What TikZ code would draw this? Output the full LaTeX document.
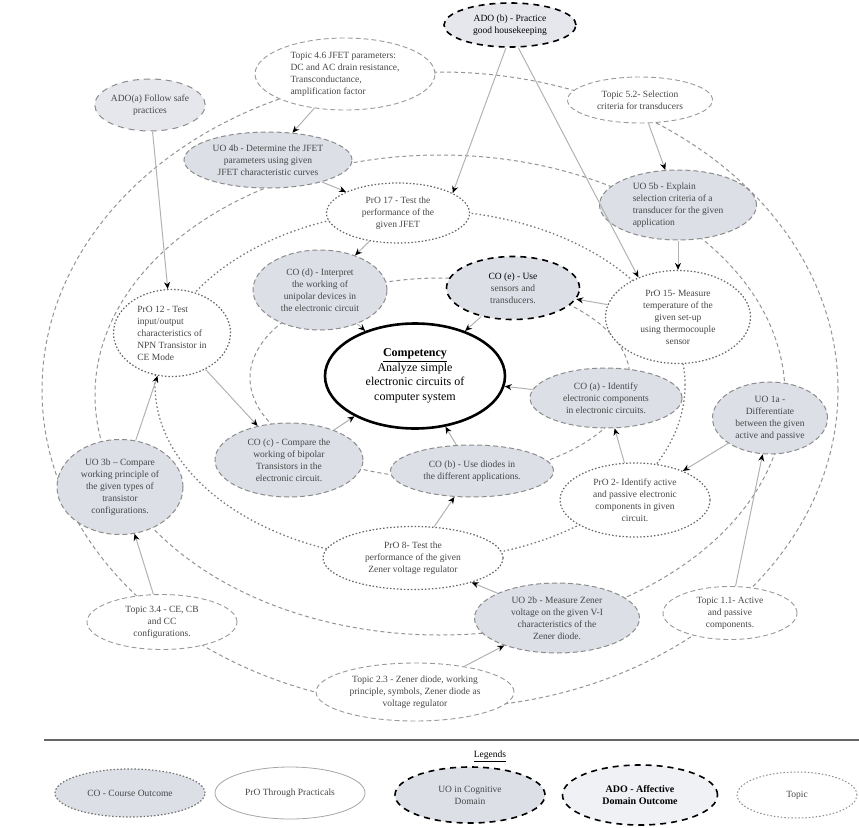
\documentclass[tikz,border=0pt]{standalone}
\usepackage{fontspec}
\setmainfont{Liberation Serif}
\usetikzlibrary{shapes, arrows.meta, positioning}
\definecolor{uogrey}{RGB}{221,223,231}
\definecolor{adogrey}{RGB}{229,231,237}

\begin{document}
\begin{tikzpicture}[
    x=1pt, y=-1pt,
    font=\fontsize{9.5}{12}\selectfont,
    sz/.style 2 args={minimum width=#1pt, minimum height=#2pt},
    oval/.style={ellipse, inner sep=0pt, align=center, text=black!72},
    uo/.style={oval, draw=black!45, dash pattern=on 5pt off 3pt, line width=1pt, fill=uogrey},
    co/.style={uo},
    ado/.style={oval, draw=black, dash pattern=on 6pt off 5pt, line width=1.6pt, fill=adogrey, text=black},
    pro/.style={oval, draw=black!60, dash pattern=on 1.5pt off 2pt, line width=1.2pt, fill=white},
    topic/.style={oval, draw=black!40, dash pattern=on 5pt off 3pt, line width=0.9pt, fill=white},
    comp/.style={oval, draw=black, line width=2.6pt, fill=white, text=black, font=\fontsize{12}{14.5}\selectfont},
    ring/.style={draw=black!42, dash pattern=on 4pt off 3pt, line width=1pt},
    proring/.style={draw=black!52, dash pattern=on 1.5pt off 2.5pt, line width=1.3pt},
    arrow/.style={draw=black!30, line width=1pt, -{Stealth[black, length=7pt, width=6pt]}}
  ]
  \useasboundingbox (0,0) rectangle (859,827);

  % rings
  \draw [ring] (440,390) ellipse [x radius=398pt, y radius=318pt];
  \draw [ring] (440,395) ellipse [x radius=345pt, y radius=240pt];
  \draw [proring] (420,385) ellipse [x radius=265pt, y radius=175pt];
  \draw [ring] (440,378) ellipse [x radius=190pt, y radius=100pt];

  % outer ring: topics and ADOs
  \node (adob) [ado, sz={132}{44}] at (510,25) {ADO (b) - Practice\\good housekeeping};
  \node (adoa) [ado, draw=black!45, line width=1pt, text=black!72, sz={105}{52}] at (150,105) {ADO(a) Follow safe\\practices};
  \node (t46) [topic, align=left, sz={180}{72}] at (345,74) {Topic 4.6 JFET parameters:\\DC and AC drain resistance,\\Transconductance,\\amplification factor};
  \node (t52) [topic, sz={145}{46}] at (640,100) {Topic 5.2- Selection\\criteria for transducers};
  \node (t11) [topic, sz={134}{53}] at (730,613) {Topic 1.1- Active\\and passive\\components.};
  \node (t34) [topic, sz={150}{55}] at (162,622) {Topic 3.4 - CE, CB\\and CC\\configurations.};
  \node (t23) [topic, sz={198}{58}] at (415,692) {Topic 2.3 - Zener diode, working\\principle, symbols, Zener diode as\\voltage regulator};

  % UO ring
  \node (uo4b) [uo, sz={168}{56}] at (268,160) {UO 4b - Determine the JFET\\parameters using given\\JFET characteristic curves};
  \node (uo5b) [uo, align=left, sz={157}{70}] at (678,205) {UO 5b - Explain\\selection criteria of a\\transducer for the given\\application};
  \node (uo1a) [uo, sz={115}{72}] at (770,418) {UO 1a -\\Differentiate\\between the given\\active and passive};
  \node (uo2b) [uo, sz={165}{70}] at (557,618) {UO 2b - Measure Zener\\voltage on the given V-I\\characteristics of the\\Zener diode.};
  \node (uo3b) [uo, sz={126}{95}] at (120,487) {UO 3b -- Compare\\working principle of\\the given types of\\transistor\\configurations.};

  % PrO ring
  \node (pro17) [pro, sz={143}{60}] at (398,213) {PrO 17 - Test the\\performance of the\\given JFET};
  \node (pro15) [pro, sz={145}{93}] at (678,317) {PrO 15- Measure\\temperature of the\\given set-up\\using thermocouple\\sensor};
  \node (pro2) [pro, sz={150}{74}] at (635,500) {PrO 2- Identify active\\and passive electronic\\components in given\\circuit.};
  \node (pro8) [pro, sz={180}{63}] at (413,558) {PrO 8- Test the\\performance of the given\\Zener voltage regulator};
  \node (pro12) [pro, align=left, sz={117}{87}] at (172,333) {PrO 12 - Test\\input/output\\characteristics of\\NPN Transistor in\\CE Mode};

  % CO ring
  \node (cod) [co, sz={134}{80}] at (320,290) {CO (d) - Interpret\\the working of\\unipolar devices in\\the electronic circuit};
  \node (coe) [co, draw=black, dash pattern=on 6pt off 5pt, line width=1.6pt, sz={133}{63}] at (513,288) {\textcolor{black}{CO (e) - Use}\\sensors and\\transducers.};
  \node (coa) [co, sz={152}{60}] at (606,398) {CO (a) - Identify\\electronic components\\in electronic circuits.};
  \node (cob) [co, sz={163}{52}] at (472,471) {CO (b) - Use diodes in\\the different applications.};
  \node (coc) [co, sz={148}{74}] at (289,460) {CO (c) - Compare the\\working of bipolar\\Transistors in the\\electronic circuit.};

  \node (comp) [comp, sz={180}{105}] at (415,376) {\underline{\textbf{Competency}}\\Analyze simple\\electronic circuits of\\computer system};

  % connectors
  \draw [arrow] (adob.260) -- (pro17.20);
  \draw [arrow] (adob.290) -- (pro15.135);
  \draw [arrow] (t46) -- (uo4b);
  \draw [arrow] (adoa) -- (pro12);
  \draw [arrow] (uo4b) -- (pro17);
  \draw [arrow] (t52) -- (uo5b);
  \draw [arrow] (uo5b) -- (pro15);
  \draw [arrow] (pro17) -- (cod);
  \draw [arrow] (pro15) -- (coe);
  \draw [arrow] (pro12) -- (coc);
  \draw [arrow] (uo3b) -- (pro12);
  \draw [arrow] (t34) -- (uo3b);
  \draw [arrow] (pro2) -- (coa);
  \draw [arrow] (uo1a) -- (pro2);
  \draw [arrow] (t11) -- (uo1a);
  \draw [arrow] (pro8) -- (cob);
  \draw [arrow] (uo2b) -- (pro8);
  \draw [arrow] (t23) -- (uo2b);
  \draw [arrow] (cod) -- (comp);
  \draw [arrow] (coe) -- (comp);
  \draw [arrow] (coa) -- (comp);
  \draw [arrow] (cob) -- (comp);
  \draw [arrow] (coc) -- (comp);

  % legend
  \draw [black!60, line width=1.6pt] (44,740) -- (859,740);
  \node (legends) at (490,756) {\underline{Legends}};
  \node (lco) [oval, draw=black!55, dash pattern=on 1.5pt off 2pt, line width=1.2pt, fill=uogrey, sz={150}{48}] at (130,793) {CO - Course Outcome};
  \node (lpro) [oval, draw=black!35, line width=0.8pt, fill=white, sz={150}{52}] at (290,793) {PrO Through Practicals};
  \node (luo) [uo, draw=black, dash pattern=on 6pt off 5pt, line width=1.6pt, sz={150}{56}] at (470,795) {UO in Cognitive\\Domain};
  \node (lado) [ado, fill=adogrey!60, font=\fontsize{10}{12}\selectfont\bfseries, sz={155}{60}] at (640,795) {ADO - Affective\\Domain Outcome};
  \node (ltopic) [oval, draw=black!45, dash pattern=on 1.5pt off 2pt, line width=1pt, fill=white, sz={120}{46}] at (797,795) {Topic};
\end{tikzpicture}
\end{document}
